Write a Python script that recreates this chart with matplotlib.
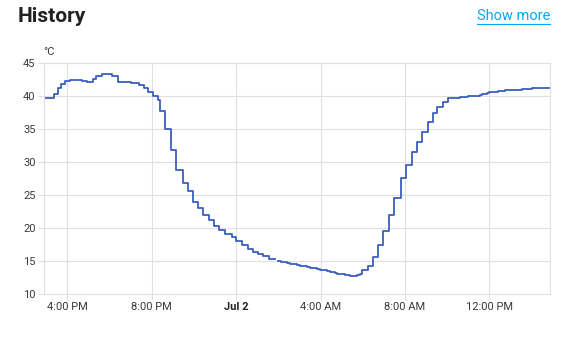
import matplotlib
matplotlib.use("Agg")
import numpy as np
import matplotlib.pyplot as plt
from matplotlib.lines import Line2D

plt.rcParams['font.family'] = ['Roboto', 'DejaVu Sans']

# readings: hours since Jul 1 00:00 -> temperature (°C); NaN marks a gap
hours = [14.89, 15.37, 15.57, 15.70, 15.89, 16.12, 16.41, 16.69, 16.93, 17.07,
         17.23, 17.36, 17.63, 18.10, 18.38, 18.68, 19.01, 19.38, 19.63, 19.84,
         20.08, 20.29, 20.39, 20.63, 20.90, 21.13, 21.46, 21.73, 21.97, 22.20,
         22.44, 22.71, 22.95, 23.20, 23.47, 23.79, 23.99, 24.29, 24.55, 24.81,
         25.05, 25.28, 25.57, 25.84,
         26.00, 26.14, 26.28, 26.42, 26.55, 26.72, 26.88, 27.03, 27.19, 27.36,
         27.50, 27.66, 27.83, 27.97, 28.14, 28.30, 28.45, 28.56, 28.68, 28.80,
         28.91, 29.15, 29.39, 29.72, 29.86,
         29.98, 30.23, 30.47, 30.73, 30.97, 31.26, 31.49, 31.80, 32.03, 32.32,
         32.58, 32.83, 33.09, 33.31, 33.54, 33.82, 34.05,
         34.60, 34.99, 35.41, 35.55, 35.65, 35.77, 35.89, 36.00, 36.12, 36.41,
         36.74, 37.12, 37.55, 38.02, 38.88]
temps = [39.8, 40.4, 41.2, 41.8, 42.3, 42.5, 42.4, 42.3, 42.2, 42.1,
         42.6, 43.1, 43.4, 43.0, 42.2, 42.1, 42.0, 41.7, 41.2, 40.7,
         40.0, 39.5, 37.7, 35.0, 31.9, 28.8, 26.9, 25.7, 24.0, 23.0,
         22.0, 21.2, 20.3, 19.7, 19.1, 18.6, 18.0, 17.4, 16.8, 16.4,
         16.0, 15.7, 15.3, np.nan,
         15.0, 14.9, 14.8, 14.7, 14.6, 14.5, 14.4, 14.3, 14.2, 14.1,
         14.0, 13.9, 13.8, 13.7, 13.6, 13.5, 13.4, 13.3, 13.2, 13.1,
         13.0, 12.9, 12.8, 12.9, 13.0,
         13.6, 14.3, 15.6, 17.4, 19.6, 22.0, 24.5, 27.6, 29.6, 31.5,
         33.0, 34.6, 36.1, 37.4, 38.3, 39.2, 39.8,
         39.9, 40.0, 40.1, 40.2, 40.3, 40.4, 40.5, 40.6, 40.7, 40.8,
         40.9, 41.0, 41.1, 41.2, 41.2]

tick_hours = [16, 20, 24, 28, 32, 36]
tick_labels = ['4:00 PM', '8:00 PM', 'Jul 2', '4:00 AM', '8:00 AM', '12:00 PM']
y_ticks = [10, 15, 20, 25, 30, 35, 40, 45]

grid_col = '#e0e0e0'
text_col = '#3a3a3a'

fig = plt.figure(figsize=(5.65, 3.4), dpi=100)
ax = fig.add_axes([0.0779, 0.1353, 0.8956, 0.6785])

ax.plot(hours, temps, drawstyle='steps-post', color='#3b5fc0', lw=1.3)

ax.set_xlim(14.89, 38.88)
ax.set_ylim(10, 45)
ax.set_xticks(tick_hours)
ax.set_xticklabels(tick_labels)
ax.set_yticks(y_ticks)
ax.grid(True, color=grid_col, lw=0.8)
ax.set_axisbelow(True)
for s in ax.spines.values():
    s.set_color(grid_col)
    s.set_linewidth(0.8)
ax.tick_params(colors=grid_col, labelcolor=text_col, labelsize=8, length=4, width=0.8, pad=2)
for lbl in ax.get_xticklabels():
    if lbl.get_text() == 'Jul 2':
        lbl.set_fontweight('bold')
        lbl.set_color('#222222')

fig.text(43 / 565, 1 - 57 / 340, '°C', fontsize=8, color=text_col, ha='left', va='bottom')

fig.text(18 / 565, 1 - 17 / 340, 'History', fontsize=15, fontweight='bold', color='#212121',
         ha='left', va='center')
link = fig.text(550 / 565, 1 - 16 / 340, 'Show more', fontsize=10.5, color='#03a9f4',
                ha='right', va='center')
fig.canvas.draw()
bb = link.get_window_extent()
fig.add_artist(Line2D([bb.x0, bb.x1], [bb.y0 - 1, bb.y0 - 1], color='#03a9f4', lw=0.8,
                      transform=None))

fig.savefig('out.png', dpi=100)
